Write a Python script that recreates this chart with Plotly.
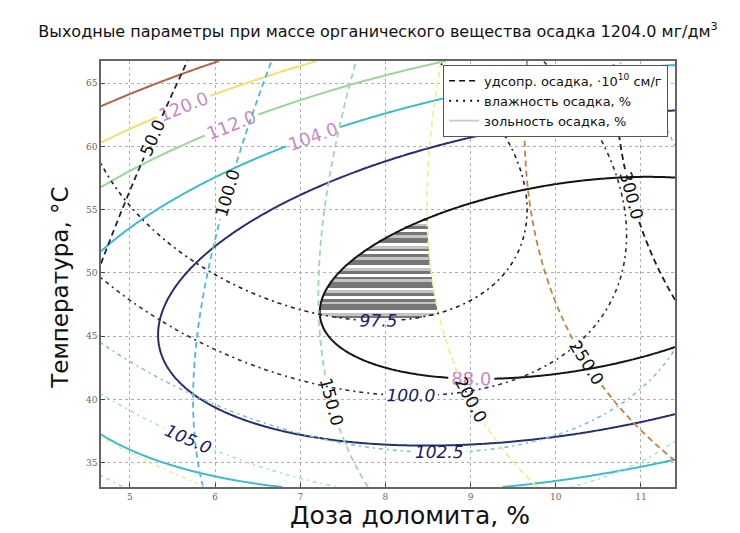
import numpy as np
import plotly.graph_objects as go

# Response surfaces (2nd order regression), organic mass fixed at 1204 mg/dm3
# terms: 1, u, v, u^2, u*v, v^2   with u = (dose - 8)/3, v = (temp - 50)/15
ash_coef = [86.3373, -8.03302, 5.73671, 5.60857, -6.86276, 18.1892]      # зольность, %
res_coef = [179.67, 113.392, 5.19577, -1.48272, 32.9076, -14.6387]       # удельное сопротивление
moist_coef = [96.4221, 0.716302, -3.46072, 3.40479, 2.26575, 3.32156]    # влажность, %

ash_levels = [88, 96, 104, 112, 120, 128]
ash_colors = ["#151515", "#27306e", "#3cbcc8", "#9ad69a", "#ece36a", "#b0654a"]
res_levels = [50, 100, 150, 200, 250, 300]
res_colors = ["#1d2440", "#4fb6dc", "#9fd8a4", "#f2f08e", "#c4803e", "#1a1a1a"]
moist_levels = [97.5, 100, 102.5, 105, 107.5, 110]
moist_colors = ["#1b1b33", "#2a2a44", "#7fbfcf", "#a6dfe6", "#efe7a0", "#e6c6a6"]

# limits of the feasible (hatched) zone
ash_max, res_max, moist_max = 88, 200, 97.5

dose_range = [4.66, 11.40]
temp_range = [33.1, 66.74]
dose_ticks = [5, 6, 7, 8, 9, 10, 11]
temp_ticks = [35, 40, 45, 50, 55, 60, 65]


def model(c, x, y):
    u = (x - 8) / 3
    v = (y - 50) / 15
    return c[0] + c[1]*u + c[2]*v + c[3]*u*u + c[4]*u*v + c[5]*v*v


gx = np.linspace(dose_range[0], dose_range[1], 220)
gy = np.linspace(temp_range[0], temp_range[1], 220)
GX, GY = np.meshgrid(gx, gy)
ash_z = model(ash_coef, GX, GY)
res_z = model(res_coef, GX, GY)
moist_z = model(moist_coef, GX, GY)

fig = go.Figure()

# hatched zone, drawn as horizontal gray stripes
hy = np.arange(temp_range[0], temp_range[1], 0.22)
hx = np.linspace(dose_range[0], dose_range[1], 700)
HX, HY = np.meshgrid(hx, hy)
ok = ((model(ash_coef, HX, HY) <= ash_max) & (model(res_coef, HX, HY) <= res_max)
      & (model(moist_coef, HX, HY) <= moist_max))
hatch_shades = [1, 1, 0.5, 1, 0, 1, 0.5, 0]
shade = np.resize(hatch_shades, len(hy))[:, None] * np.ones_like(HX)
fig.add_trace(go.Heatmap(x=hx, y=hy, z=np.where(ok, shade, np.nan), zmin=0, zmax=1,
                         colorscale=[[0, "#ffffff"], [0.5, "#c4c4c4"], [1, "#767676"]],
                         showscale=False, hoverinfo="skip"))


def add_level(z, lvl, color, dash, lab_color, lab_size=17, italic=False, width=1.8, labels=True):
    fig.add_trace(go.Contour(
        x=gx, y=gy, z=z, autocontour=False, showscale=False, hoverinfo="skip", showlegend=False,
        contours=dict(start=lvl, end=lvl, size=1, coloring="none", showlabels=labels,
                      labelformat=".1f",
                      labelfont=dict(color=lab_color, size=lab_size, family="DejaVu Sans",
                                     style="italic" if italic else "normal")),
        line=dict(color=color, dash=dash, width=width, smoothing=1)))


for lvl, col in zip(ash_levels, ash_colors):
    add_level(ash_z, lvl, col, "solid", "#c88ac8", 18, labels=(lvl != 96), width=2)
for lvl, col in zip(res_levels, res_colors):
    add_level(res_z, lvl, col, "6px,4px", "#111111", 17)
for lvl, col in zip(moist_levels, moist_colors):
    add_level(moist_z, lvl, col, "2px,4px,4px,4px", "#1a1a5e", 17, italic=True, width=1.6)

# legend entries
fig.add_trace(go.Scatter(x=[None], y=[None], mode="lines", name="удсопр. осадка, ·10<sup>10</sup> см/г",
                         line=dict(color="#111111", dash="6px,4px", width=1.6)))
fig.add_trace(go.Scatter(x=[None], y=[None], mode="lines", name="влажность осадка, %",
                         line=dict(color="#111111", dash="2px,5px", width=2)))
fig.add_trace(go.Scatter(x=[None], y=[None], mode="lines", name="зольность осадка, %",
                         line=dict(color="#c8c8c8", width=1.6)))

axis = dict(showline=True, mirror=True, linecolor="#666666", linewidth=1.5,
            ticks="inside", ticklen=4, tickcolor="#444444",
            showgrid=True, gridcolor="#b0b0b0", griddash="dot", gridwidth=1,
            zeroline=False, tickfont=dict(size=9, color="#666666", family="DejaVu Serif"))

# axis titles placed as annotations, like in the original
fig.add_annotation(text="Доза доломита, %", xref="paper", yref="paper", x=0.538, y=-0.068,
                   showarrow=False, xanchor="center", yanchor="middle",
                   font=dict(size=25, color="#111111", family="DejaVu Sans"))
fig.add_annotation(text="Температура, °С", xref="paper", yref="paper", x=-0.072, y=0.467,
                   showarrow=False, xanchor="center", yanchor="middle", textangle=-90,
                   font=dict(size=23, color="#111111", family="DejaVu Sans"))

fig.update_layout(
    width=740, height=533, paper_bgcolor="white", plot_bgcolor="white",
    margin=dict(l=93, r=73, t=53, b=54),
    title=dict(text="Выходные параметры при массе органического вещества осадка 1204.0 мг/дм<sup>3</sup>",
               x=0.5, xanchor="center", y=0.956, yanchor="middle",
               font=dict(size=16, color="#111111", family="DejaVu Sans")),
    xaxis=dict(axis, range=dose_range, tickvals=dose_ticks),
    yaxis=dict(axis, range=temp_range, tickvals=temp_ticks),
    legend=dict(x=0.988, xanchor="right", y=0.991, yanchor="top", bgcolor="white",
                bordercolor="#555555", borderwidth=1, font=dict(size=13, color="#111111", family="DejaVu Sans"),
                tracegroupgap=0, itemwidth=30),
)

fig.write_html("out.html")
